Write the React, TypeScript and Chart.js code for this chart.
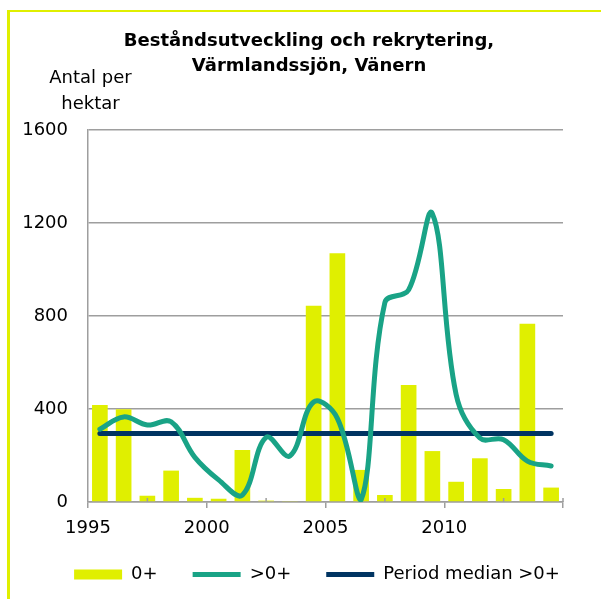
import { useEffect, useRef } from 'react';
import { Chart, registerables } from 'chart.js';

Chart.register(...registerables);

// ---- data ----
const years = [1995, 1996, 1997, 1998, 1999, 2000, 2001, 2002, 2003, 2004, 2005, 2006, 2007, 2008, 2009, 2010, 2011, 2012, 2013, 2014];
const recruits0 = [417, 399, 27, 135, 18, 14, 224, 6, 4, 844, 1070, 138, 30, 503, 219, 87, 188, 56, 767, 62];
const older0 = [313, 366, 331, 345, 192, 95, 30, 278, 198, 430, 360, 9, 858, 912, 1240, 462, 275, 268, 176, 155];
const periodMedian = 295;
const labelYears = [1995, 2000, 2005, 2010];
const yMin = 0;
const yMax = 1600;
const yStep = 400;
const xStep = 2.5;

const titleLines = ['Beståndsutveckling och rekrytering,', 'Värmlandssjön, Vänern'];
const yTitleLines = ['Antal per', 'hektar'];
const seriesNames = ['0+', '>0+', 'Period median >0+'];

const FONT = 'DejaVu Sans';
const YELLOW = '#E0EF00';
const TEAL = '#19A386';
const NAVY = '#003462';
const GRID = '#9e9e9e';

export default function App() {
  const canvasRef = useRef<HTMLCanvasElement | null>(null);

  useEffect(() => {
    const canvas = canvasRef.current;
    if (!canvas) return;

    const yTitlePlugin = {
      id: 'yTitleTop',
      afterDraw(chart: any) {
        const { ctx, chartArea } = chart;
        ctx.save();
        ctx.font = `18px "${FONT}"`;
        ctx.fillStyle = '#000';
        ctx.textAlign = 'center';
        ctx.textBaseline = 'alphabetic';
        const cx = chartArea.left + 2.5;
        yTitleLines.forEach((line, i) => {
          ctx.fillText(line, cx, chartArea.top - 46.7 + i * 25.7);
        });
        ctx.restore();
      },
    };

    const minorTicksPlugin = {
      id: 'minorTicks',
      afterDraw(chart: any) {
        const xs = chart.scales.x;
        const ctx = chart.ctx;
        ctx.save();
        ctx.strokeStyle = GRID;
        ctx.lineWidth = 1.5;
        xs.ticks.forEach((t: any) => {
          if (labelYears.includes(t.value)) return;
          const px = xs.getPixelForValue(t.value);
          ctx.beginPath();
          ctx.moveTo(px, xs.top);
          ctx.lineTo(px, xs.top - 4);
          ctx.stroke();
        });
        ctx.restore();
      },
    };

    const legendShiftPlugin = {
      id: 'legendShift',
      afterLayout(chart: any) {
        const lg = chart.legend;
        if (lg) {
          lg.left += 8;
          lg.right += 8;
          lg.top -= 5.5;
          lg.bottom -= 5.5;
        }
      },
    };

    const chart = new Chart(canvas, {
      type: 'bar',
      data: {
        datasets: [
          {
            type: 'bar',
            label: seriesNames[0],
            data: years.map((yr, i) => ({ x: yr + 0.5, y: recruits0[i] })),
            backgroundColor: YELLOW,
            borderWidth: 0,
            categoryPercentage: 0.66,
            barPercentage: 1,
            pointStyle: 'rect',
            order: 3,
          } as any,
          {
            type: 'line',
            label: seriesNames[1],
            data: years.map((yr, i) => ({ x: yr + 0.5, y: older0[i] })),
            borderColor: TEAL,
            backgroundColor: TEAL,
            borderWidth: 5,
            borderCapStyle: 'round',
            borderJoinStyle: 'round',
            tension: 0.38,
            pointRadius: 0,
            pointStyle: 'line',
            fill: false,
            order: 1,
          } as any,
          {
            type: 'line',
            label: seriesNames[2],
            data: years.map((yr) => ({ x: yr + 0.5, y: periodMedian })),
            borderColor: NAVY,
            backgroundColor: NAVY,
            borderWidth: 5,
            borderCapStyle: 'round',
            pointRadius: 0,
            pointStyle: 'line',
            fill: false,
            order: 2,
          } as any,
        ],
      },
      options: {
        responsive: false,
        animation: false,
        events: [],
        layout: { padding: { left: 17, right: 0, top: 0, bottom: 0 } },
        scales: {
          x: {
            type: 'linear',
            min: years[0],
            max: years[years.length - 1] + 1,
            offset: false,
            z: 1,
            grid: {
              offset: false,
              drawOnChartArea: false,
              drawTicks: true,
              tickLength: 6,
              lineWidth: 1.5,
              tickColor: (c: any) => (c.tick && c.tick.value % 5 === 0 ? GRID : 'rgba(0,0,0,0)'),
            },
            border: { display: true, color: GRID, width: 1.5 },
            ticks: {
              stepSize: xStep,
              autoSkip: false,
              maxRotation: 0,
              padding: 9.5,
              color: '#000',
              font: { family: FONT, size: 18 },
              callback: (v: any) => (labelYears.includes(Number(v)) ? String(v) : ''),
            },
            afterFit: (s: any) => {
              s.height = 34;
            },
          },
          y: {
            type: 'linear',
            min: yMin,
            max: yMax,
            grid: { color: GRID, lineWidth: 1.5, drawTicks: false },
            border: { display: true, color: GRID, width: 1.5 },
            ticks: {
              stepSize: yStep,
              padding: 20,
              color: '#000',
              font: { family: FONT, size: 18 },
              callback: (v: any) => String(v),
            },
            afterFit: (s: any) => {
              s.width = 71;
            },
          },
          yRightSpace: {
            type: 'linear',
            position: 'right',
            display: true,
            min: 0,
            max: 1,
            grid: { display: false, drawTicks: false },
            border: { display: false },
            ticks: { display: false },
            afterFit: (s: any) => {
              s.width = 38;
            },
          },
        },
        plugins: {
          title: {
            display: true,
            text: titleLines,
            color: '#000',
            font: { family: FONT, size: 18, weight: 'bold', lineHeight: 1.36 },
            padding: { top: 29.25, bottom: 51.75 },
          },
          legend: {
            position: 'bottom',
            labels: {
              usePointStyle: true,
              pointStyleWidth: 48,
              boxHeight: 10,
              padding: 35,
              color: '#000',
              font: { family: FONT, size: 18 },
              sort: (a: any, b: any) => a.datasetIndex - b.datasetIndex,
            },
          },
          tooltip: { enabled: false },
        },
      } as any,
      plugins: [yTitlePlugin, minorTicksPlugin, legendShiftPlugin],
    });

    return () => chart.destroy();
  }, []);

  return (
    <div style={{ position: 'fixed', left: 0, top: 0, width: 601, height: 599, background: '#fff' }}>
      <div
        style={{
          position: 'absolute',
          left: 7,
          top: 10,
          width: 594,
          height: 589,
          borderLeft: `3px solid ${YELLOW}`,
          borderTop: `2px solid ${YELLOW}`,
          boxSizing: 'border-box',
          pointerEvents: 'none',
        }}
      />
      <canvas
        ref={canvasRef}
        width={601}
        height={599}
        style={{ position: 'absolute', left: 0, top: 0, display: 'block' }}
      />
    </div>
  );
}
